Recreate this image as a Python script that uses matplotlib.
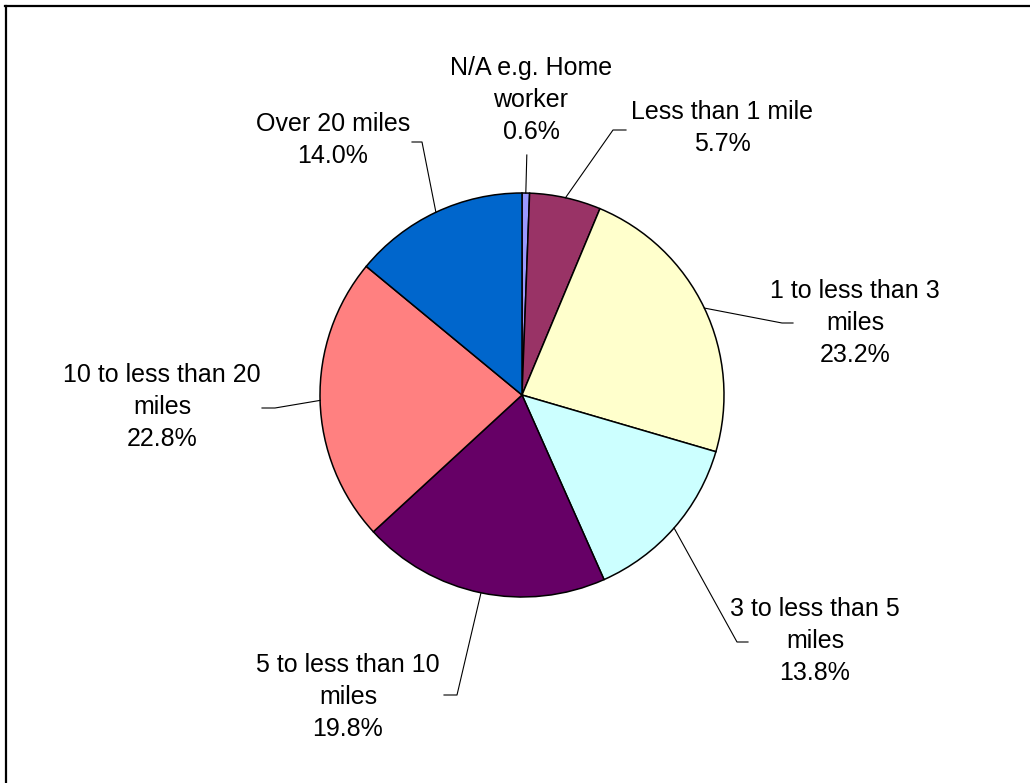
import matplotlib.pyplot as plt
import numpy as np

plt.rcParams['font.family'] = ['Liberation Sans', 'DejaVu Sans']

categories = ["N/A e.g. Home\nworker", "Less than 1 mile", "1 to less than 3\nmiles",
              "3 to less than 5\nmiles", "5 to less than 10\nmiles",
              "10 to less than 20\nmiles", "Over 20 miles"]
shares = [0.6, 5.7, 23.2, 13.8, 19.8, 22.8, 14.0]
colors = ["#9999FF", "#993366", "#FFFFCC", "#CCFFFF", "#660066", "#FF8080", "#0066CC"]

W, H = 1030, 783
# layout in pixel coords (y down): label centre, leader elbow, leader end
label_pos = [(531, 100), (722, 128), (855, 323), (815, 641), (348, 697), (162, 407), (333, 140)]
elbows = [None, ((613, 130), (626, 130)), ((782, 323), (793, 323)), ((737, 642), (748, 642)),
          ((457, 695), (444, 695)), ((275, 408), (262, 408)), ((422, 142), (412, 142))]
cx, cy, r = 522, 395, 202

fig = plt.figure(figsize=(W / 100, H / 100), dpi=100)
ax = fig.add_axes([0, 0, 1, 1])

ax.pie(shares, colors=colors, startangle=90, counterclock=False, center=(cx, H - cy), radius=r,
       wedgeprops=dict(edgecolor='black', linewidth=1.1), frame=True)
ax.set_xlim(0, W)
ax.set_ylim(0, H)
ax.set_aspect('equal')
ax.axis('off')

total = sum(shares)
cum = 0
for i, (lab, v) in enumerate(zip(categories, shares)):
    mid = (cum + v / 2) / total * 2 * np.pi
    cum += v
    ex, ey = cx + r * np.sin(mid), cy - r * np.cos(mid)
    if elbows[i] is None:
        pts = [(ex, ey), (ex + 1, 155)]
    else:
        pts = [(ex, ey), elbows[i][0], elbows[i][1]]
    ax.plot([p[0] for p in pts], [H - p[1] for p in pts], color='black', lw=0.8)
    tx, ty = label_pos[i]
    ax.text(tx, H - ty, f"{lab}\n{v:.1f}%", ha='center', va='center', fontsize=18,
            linespacing=1.43, color='black')

# chart border (only top and left edges visible)
ax.plot([5.5, 5.5], [0, H - 6], color='black', lw=1.6)
ax.plot([5, W], [H - 6, H - 6], color='black', lw=1.6)

fig.savefig("out.png", dpi=100)
